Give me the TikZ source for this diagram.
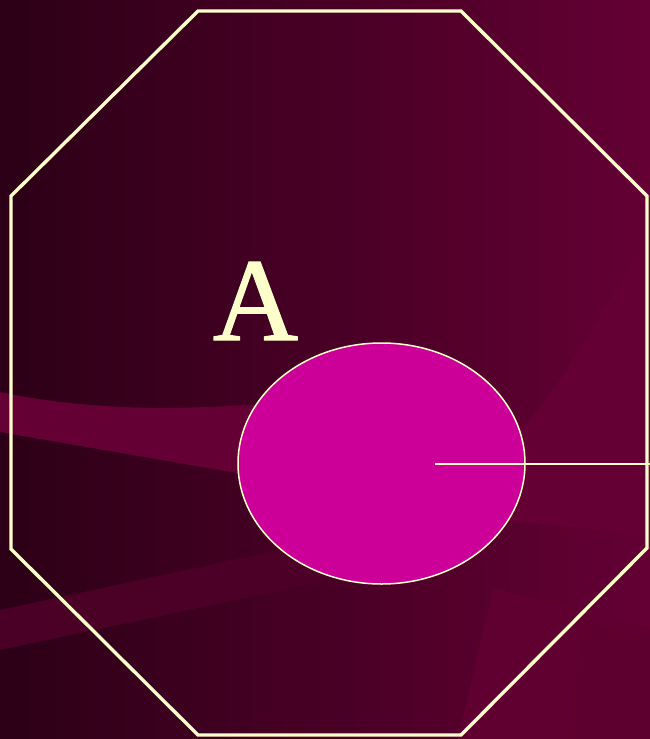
\documentclass[tikz,border=0pt]{standalone}
\usepackage{fontspec}
\usepackage{tikz}
\usetikzlibrary{shapes.geometric}
\newfontfamily\slidefont[FakeBold=1.2]{Liberation Serif}

\definecolor{bgdark}{HTML}{2C0016}
\definecolor{bglight}{HTML}{640034}
\definecolor{swoosh}{HTML}{650034}
\definecolor{cream}{HTML}{FFFFCC}
\definecolor{cellpink}{HTML}{CC0099}

\begin{document}
\begin{tikzpicture}[x=1pt,y=-1pt,
  cell/.style={ellipse,draw=cream,fill=cellpink,line width=1.5pt,
    minimum width=287pt,minimum height=241pt,inner sep=0pt},
  link/.style={draw=cream,line width=2pt},
  frame/.style={draw=cream,line width=3.4pt,line join=miter}]

  \useasboundingbox (0,0) rectangle (650,739);

  % background
  \shade[left color=bgdark,right color=bglight] (0,0) rectangle (650,739);

  % swooshes
  \fill[swoosh] (0,392) .. controls (90,411) and (180,410) .. (262,404)
    -- (380,380) -- (520,430) .. controls (570,380) and (610,290) .. (650,235)
    -- (650,540) .. controls (580,524) and (500,518) .. (430,522)
    -- (237,473) -- (0,432) -- cycle;
  \fill[bgdark!40!bglight,opacity=0.9] (0,610) -- (280,550) -- (420,530)
    -- (420,570) -- (330,580) -- (0,650) -- cycle;
  \fill[swoosh!95!black] (493,588) -- (650,628) -- (650,739) -- (458,739) -- cycle;
  \fill[swoosh!90!black,opacity=0.5] (583,620) -- (650,640) -- (650,739) -- (567,739) -- cycle;

  % octagon
  \coordinate (o1) at (198,11);
  \coordinate (o2) at (461,11);
  \coordinate (o3) at (647,196);
  \coordinate (o4) at (647,548);
  \coordinate (o5) at (461,735);
  \coordinate (o6) at (198,735);
  \coordinate (o7) at (11,549);
  \coordinate (o8) at (11,196);
  \draw[frame] (o1) -- (o2) -- (o3) -- (o4) -- (o5) -- (o6) -- (o7) -- (o8) -- cycle;

  % label
  \node[anchor=base,inner sep=0pt,text=cream,font=\slidefont\fontsize{118}{120}\selectfont]
    (labelA) at (255.5,340) {A};

  % cell and its line
  \node[cell] (cell) at (381.5,463.5) {};
  \coordinate (lineStart) at (435,463.5);
  \coordinate (lineEnd) at (650,463.5);
  \draw[link] (lineStart) -- (lineEnd);

\end{tikzpicture}
\end{document}
